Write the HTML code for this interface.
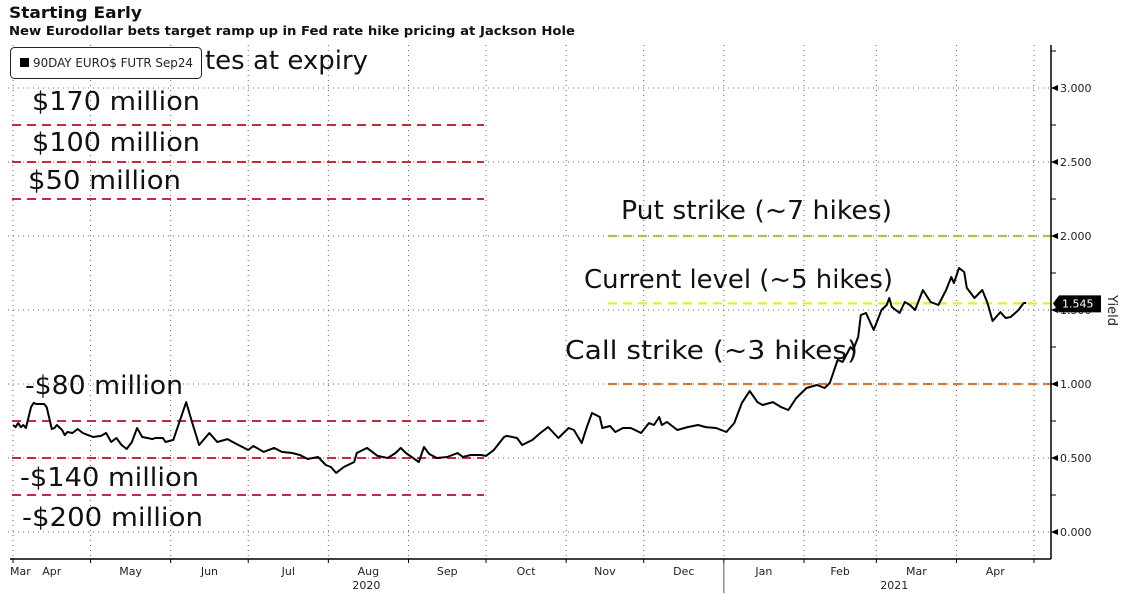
<!DOCTYPE html>
<html><head><meta charset="utf-8"><style>
html,body{margin:0;padding:0;background:#fff;}
svg{display:block;font-family:"DejaVu Sans","Liberation Sans",sans-serif;}
</style></head><body>
<svg id="chart" width="1123" height="595" viewBox="0 0 1123 595">
<text x="9" y="18" font-size="16" font-weight="bold" fill="#111" textLength="133" lengthAdjust="spacingAndGlyphs">Starting Early</text>
<text x="9" y="35" font-size="12" font-weight="bold" fill="#111" textLength="566" lengthAdjust="spacingAndGlyphs">New Eurodollar bets target ramp up in Fed rate hike pricing at Jackson Hole</text>
<g id="grid"></g>
<g id="refs"></g>
<g id="annots"></g>
<g id="series"></g>
<g id="axes"></g>
<g>
<rect x="10.5" y="47.5" width="191" height="31" rx="4" fill="#fff" stroke="#222"/>
<rect x="20" y="58" width="9" height="9" fill="#000"/>
<text x="33" y="67" font-size="12" fill="#222" textLength="160" lengthAdjust="spacingAndGlyphs">90DAY EURO$ FUTR  Sep24</text>
</g>
</svg>
<script>
const days = [0,1,2,3,4,5,7,8,9,12,13,15,16,17,19,20,21,23,25,27,29,31,34,36,38,40,42,44,46,48,50,52,54,55,58,59,62,67,69,72,76,79,83,85,91,93,97,101,104,108,111,114,118,121,123,125,128,132,133,137,141,145,148,150,152,157,159,161,164,168,172,174,177,181,183,186,190,191,195,197,201,204,207,211,215,217,220,222,224,227,228,231,233,236,239,243,246,248,250,251,253,257,261,265,268,272,276,279,282,285,288,290,294,297,300,303,307,311,314,316,319,321,324,325,327,328,330,333,336,338,339,340,343,345,347,349,352,355,358,361,363,364,366,368,369,372,375,377,379,382,384,386,389,391,392];
const yields = [0.723,0.709,0.736,0.709,0.723,0.703,0.845,0.872,0.865,0.865,0.845,0.696,0.703,0.723,0.689,0.655,0.676,0.669,0.696,0.669,0.655,0.642,0.649,0.669,0.608,0.635,0.588,0.561,0.608,0.703,0.642,0.635,0.628,0.635,0.635,0.608,0.622,0.878,0.757,0.588,0.669,0.608,0.628,0.608,0.554,0.581,0.541,0.568,0.541,0.534,0.520,0.493,0.507,0.453,0.439,0.399,0.439,0.473,0.534,0.568,0.514,0.500,0.534,0.568,0.534,0.473,0.574,0.527,0.500,0.507,0.534,0.507,0.520,0.520,0.514,0.554,0.642,0.649,0.635,0.588,0.622,0.669,0.709,0.635,0.703,0.689,0.601,0.709,0.804,0.777,0.703,0.716,0.676,0.703,0.703,0.669,0.736,0.723,0.777,0.723,0.743,0.689,0.709,0.723,0.709,0.703,0.676,0.736,0.872,0.953,0.878,0.858,0.878,0.845,0.824,0.905,0.973,0.993,0.973,1.007,1.162,1.149,1.250,1.230,1.318,1.466,1.480,1.365,1.500,1.534,1.581,1.520,1.480,1.554,1.534,1.500,1.635,1.554,1.534,1.635,1.723,1.682,1.784,1.757,1.649,1.581,1.635,1.547,1.426,1.486,1.446,1.453,1.500,1.547,1.547];
const monthTickDays = [0,30,61,91,122,153,183,214,244,275,306,334,365,395];
const monthLabels = ["Apr","May","Jun","Jul","Aug","Sep","Oct","Nov","Dec","Jan","Feb","Mar","Apr"];
const yTicks = [0,0.5,1,1.5,2,2.5,3];
const yTickLabels = ["0.000","0.500","1.000","1.500","2.000","2.500","3.000"];
const strikeValues = [2.0,1.545,1.0];
const strikeColors = ["#a9c63c","#efe734","#d4793a"];
const strikeNames = ["put-strike-line","current-level-line","call-strike-line"];
const lastValue = 1.545;

const NS="http://www.w3.org/2000/svg";
const X0=13, X1=1034, D1=395, Y0=532, PPU=148, TOP=45, BOT=559, AX=1051;
function x(d){return X0+(X1-X0)*d/D1;}
function y(v){return Y0-PPU*v;}
function mk(tag,attrs,parent){const e=document.createElementNS(NS,tag);for(const k in attrs)e.setAttribute(k,attrs[k]);parent.appendChild(e);return e;}
const grid=document.getElementById('grid'),refs=document.getElementById('refs'),an=document.getElementById('annots'),ser=document.getElementById('series'),axes=document.getElementById('axes');

yTicks.forEach(v=>{
  const l=mk('line',{x1:8,x2:AX,y1:y(v),y2:y(v),stroke:'#666','stroke-width':1,'stroke-dasharray':'1 4'},grid);
  
  
});
monthTickDays.forEach(d=>{
  const l=mk('line',{x1:x(d),x2:x(d),y1:TOP,y2:BOT,stroke:'#666','stroke-width':1,'stroke-dasharray':'1 4'},grid);
  
  
});

const redVals=[2.75,2.5,2.25,0.75,0.5,0.25];
redVals.forEach(v=>{
  const l=mk('line',{x1:12,x2:484,y1:y(v),y2:y(v),stroke:'#c9283e','stroke-width':2,'stroke-dasharray':'9 6'},refs);
  
  
});
strikeValues.forEach((v,i)=>{
  const l=mk('line',{x1:608,x2:AX,y1:y(v),y2:y(v),stroke:strikeColors[i],'stroke-width':2.2,'stroke-dasharray':'9 6'},refs);
  
  
});

const notes=[["tes at expiry",205,69,163],["$170 million",32,110,168],["$100 million",32,151,168],["$50 million",28,189,153],["-$80 million",25,394,158],["-$140 million",20,486,179],["-$200 million",22,526,181],["Put strike (~7 hikes)",621,219,271],["Current level (~5 hikes)",584,288,309],["Call strike (~3 hikes)",565,359,293]];
notes.forEach(n=>{
  const t=mk('text',{x:n[1],y:n[2],'font-size':26,fill:'#111',textLength:n[3],lengthAdjust:'spacingAndGlyphs'},an);
  t.textContent=n[0];
  
  
});

const pts=days.map((d,i)=>x(d).toFixed(1)+','+y(yields[i]).toFixed(1)).join(' ');
const line=mk('polyline',{points:pts,fill:'none',stroke:'#000','stroke-width':2,'stroke-linejoin':'round'},ser);



const ax=mk('line',{x1:AX,x2:AX,y1:TOP,y2:BOT,stroke:'#000','stroke-width':1.5},axes);


const xa=mk('line',{x1:10,x2:AX,y1:BOT,y2:BOT,stroke:'#000','stroke-width':1.5},axes);


for(let v=0;v<=3.25;v+=0.25){
  const t=mk('line',{x1:AX,x2:AX+5,y1:y(v),y2:y(v),stroke:'#000'},axes);
  
  
}
yTicks.forEach((v,i)=>{
  const a=mk('path',{d:`M${AX} ${y(v)} l7 -3 v6 z`,fill:'#000'},axes);
  
  
  const t=mk('text',{x:AX+9,y:y(v)+4,'font-size':11,fill:'#222'},axes);
  t.textContent=yTickLabels[i];
  
  
});
monthTickDays.forEach(d=>{
  const t=mk('line',{x1:x(d),x2:x(d),y1:BOT,y2:BOT+4,stroke:'#000'},axes);
  
  
});
const m0=mk('text',{x:10,y:575,'font-size':11,fill:'#222'},axes);
m0.textContent='Mar';


monthLabels.forEach((m,i)=>{
  const cx=(x(monthTickDays[i])+x(monthTickDays[i+1]))/2;
  const t=mk('text',{x:cx,y:575,'font-size':11,fill:'#222','text-anchor':'middle'},axes);
  t.textContent=m;
  
  
});
[["2020",x(122)+38],["2021",x(334)+18]].forEach(yr=>{
  const t=mk('text',{x:yr[1],y:589,'font-size':11,fill:'#222','text-anchor':'middle'},axes);
  t.textContent=yr[0];
  
  
});
const sep=mk('line',{x1:x(275),x2:x(275),y1:563,y2:593,stroke:'#555'},axes);


const ty=y(lastValue);
const tag=mk('path',{d:`M1053 ${ty} l6 -8 h42 v17 h-42 z`,fill:'#000'},axes);


const tt=mk('text',{x:1062,y:ty+4,'font-size':11,fill:'#fff'},axes);
tt.textContent=lastValue.toFixed(3);


const yl=mk('text',{x:1108,y:295,'font-size':13,fill:'#222',transform:'rotate(90 1108 295)'},axes);
yl.textContent='Yield';


</script>
</body></html>
